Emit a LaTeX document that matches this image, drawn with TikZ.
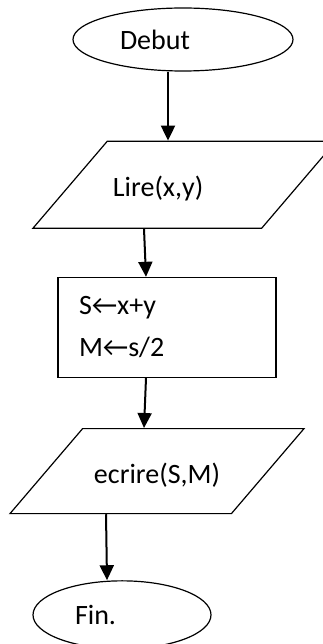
\documentclass[tikz,border=0pt]{standalone}
\usepackage{fontspec}
\setmainfont{Carlito}
\usetikzlibrary{arrows.meta, positioning, shapes.geometric}

\begin{document}
\begin{tikzpicture}[x=1pt, y=1pt,
    every node/.style={font=\fontsize{28}{42}\selectfont, line width=1.2pt, inner sep=0pt},
    term/.style={draw, ellipse, align=left},
    io/.style={draw, trapezium, trapezium left angle=49.5, trapezium right angle=130.5,
      trapezium stretches body, text height=55pt},
    proc/.style={draw, rectangle, minimum width=218pt, minimum height=100pt,
      text width=176pt, align=left},
    flow/.style={line width=2pt, -{Triangle[length=15pt, width=14pt]}}]
    \useasboundingbox (0,0) rectangle (323,-644);

    \node[term, minimum width=220pt, minimum height=63pt, text width=126pt] (debut) at (183,-39.5) {Debut};
    \node[io, below=69pt of debut, xshift=1.5pt, minimum width=303pt, text depth=32pt,
      text width=143pt, align=left] (lire) {Lire(x,y)};
    \node[proc, below=48pt of lire, xshift=-17.5pt] (calcul) {S←x+y\\M←s/2};
    \node[io, below=50pt of calcul, xshift=-10pt, minimum width=294pt, text depth=30pt] (ecrire) {ecrire(S,M)};
    \node[term, below=66pt of ecrire, xshift=-35pt, minimum width=178pt, minimum height=68pt,
      text width=94pt] (fin) {Fin.};

    \draw[flow] ([xshift=-15pt]debut.south) -- ([xshift=-16.5pt]lire.north);
    \draw[flow] ([xshift=-40.5pt]lire.south) -- ([xshift=-21pt]calcul.north);
    \draw[flow] ([xshift=-21pt]calcul.south) -- ([xshift=-13pt]ecrire.north);
    \draw[flow] ([xshift=-51pt]ecrire.south) -- ([xshift=-15pt]fin.north);
  \end{tikzpicture}
\end{document}
